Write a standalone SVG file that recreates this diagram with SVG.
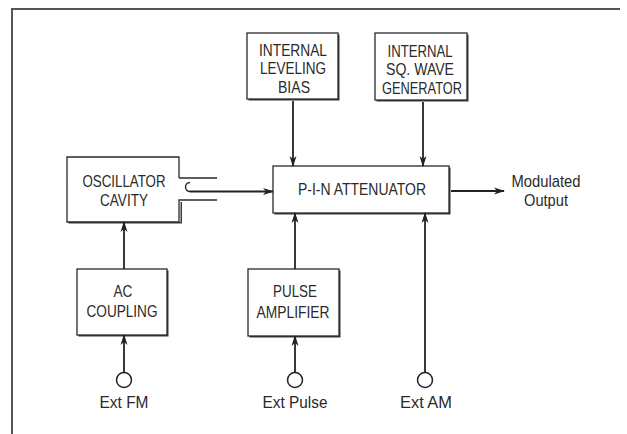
<svg xmlns="http://www.w3.org/2000/svg" width="627" height="434" viewBox="0 0 627 434">
<defs>
<marker id="arr" markerUnits="userSpaceOnUse" markerWidth="11" markerHeight="8" refX="10" refY="4" orient="auto">
<path d="M0,0.5 L11,4 L0,7.5 L3,4 Z" fill="#222"/>
</marker>
<style>
.t{font-family:"Liberation Sans",Arial,sans-serif;font-size:17px;fill:#2a2a2a;text-anchor:middle}
.box{fill:#fff;stroke:#2a2a2a;stroke-width:1.3}
.sh{fill:#3a3a3a}
.ln{fill:none;stroke:#222;stroke-width:1.8}
.frame{fill:none;stroke:#555;stroke-width:2}
</style>
</defs>
<rect width="627" height="434" fill="#fff"/>
<path class="frame" d="M12,434 V9 H620"/>

<g id="leveling">
<rect class="sh" x="248.5" y="34.5" width="91" height="66"/>
<rect class="box" x="247" y="33" width="91" height="66"/>
<text class="t" x="293" y="56" textLength="68" lengthAdjust="spacingAndGlyphs">INTERNAL</text>
<text class="t" x="293" y="74" textLength="66" lengthAdjust="spacingAndGlyphs">LEVELING</text>
<text class="t" x="294" y="93" textLength="32" lengthAdjust="spacingAndGlyphs">BIAS</text>
</g>

<g id="sqwave">
<rect class="sh" x="376.5" y="34.5" width="92" height="67"/>
<rect class="box" x="375" y="33" width="92" height="67"/>
<text class="t" x="420" y="57" textLength="65" lengthAdjust="spacingAndGlyphs">INTERNAL</text>
<text class="t" x="420" y="75" textLength="68" lengthAdjust="spacingAndGlyphs">SQ. WAVE</text>
<text class="t" x="422" y="94" textLength="80" lengthAdjust="spacingAndGlyphs">GENERATOR</text>
</g>

<g id="oscillator">
<path class="sh" d="M68.5,222 H180.5 V202 H182 V223.5 H68.5 Z"/>
<path d="M67,157 H179 V222 H67 Z" fill="#fff"/>
<path class="box" d="M179,178 V157 H67 V222 H179 V200 H217 M179,178 H217" style="fill:none"/>
<path class="ln" d="M190,182.5 A4.5,4.5 0 0 0 190,191.5" style="stroke-width:1.4"/>
<text class="t" x="124" y="187" textLength="83" lengthAdjust="spacingAndGlyphs">OSCILLATOR</text>
<text class="t" x="124" y="206" textLength="48" lengthAdjust="spacingAndGlyphs">CAVITY</text>
</g>

<g id="pin">
<rect class="sh" x="274.5" y="167.5" width="176" height="47"/>
<rect class="box" x="273" y="166" width="176" height="47"/>
<text class="t" x="362" y="195" textLength="128" lengthAdjust="spacingAndGlyphs">P-I-N ATTENUATOR</text>
</g>

<g id="output">
<text class="t" x="546" y="187" textLength="69" lengthAdjust="spacingAndGlyphs">Modulated</text>
<text class="t" x="546" y="206" textLength="44" lengthAdjust="spacingAndGlyphs">Output</text>
</g>

<g id="accoupling">
<rect class="sh" x="78.5" y="270.5" width="90" height="66"/>
<rect class="box" x="77" y="269" width="90" height="66"/>
<text class="t" x="123" y="297" textLength="19" lengthAdjust="spacingAndGlyphs">AC</text>
<text class="t" x="122" y="317" textLength="71" lengthAdjust="spacingAndGlyphs">COUPLING</text>
</g>

<g id="pulseamp">
<rect class="sh" x="249.5" y="270.5" width="91" height="67"/>
<rect class="box" x="248" y="269" width="91" height="67"/>
<text class="t" x="295" y="297" textLength="44" lengthAdjust="spacingAndGlyphs">PULSE</text>
<text class="t" x="293" y="318" textLength="73" lengthAdjust="spacingAndGlyphs">AMPLIFIER</text>
</g>

<g id="extfm">
<circle cx="124" cy="380" r="7.5" fill="#fff" stroke="#222" stroke-width="1.5"/>
<text class="t" x="124" y="408" textLength="49" lengthAdjust="spacingAndGlyphs">Ext FM</text>
</g>
<g id="extpulse">
<circle cx="295" cy="380" r="7.5" fill="#fff" stroke="#222" stroke-width="1.5"/>
<text class="t" x="295" y="408" textLength="65" lengthAdjust="spacingAndGlyphs">Ext Pulse</text>
</g>
<g id="extam">
<circle cx="425" cy="380" r="7.5" fill="#fff" stroke="#222" stroke-width="1.5"/>
<text class="t" x="426" y="408" textLength="52" lengthAdjust="spacingAndGlyphs">Ext AM</text>
</g>

<g id="connectors">
<path class="ln" d="M190,191.5 H273" marker-end="url(#arr)"/>
<path class="ln" d="M293,101 V166" marker-end="url(#arr)"/>
<path class="ln" d="M423,102 V166" marker-end="url(#arr)"/>
<path class="ln" d="M451,191 H504" marker-end="url(#arr)"/>
<path class="ln" d="M124,269 V222" marker-end="url(#arr)"/>
<path class="ln" d="M124,372.5 V335" marker-end="url(#arr)"/>
<path class="ln" d="M295,269 V213" marker-end="url(#arr)"/>
<path class="ln" d="M295,372.5 V336" marker-end="url(#arr)"/>
<path class="ln" d="M425,372.5 V213" marker-end="url(#arr)"/>
</g>
</svg>
